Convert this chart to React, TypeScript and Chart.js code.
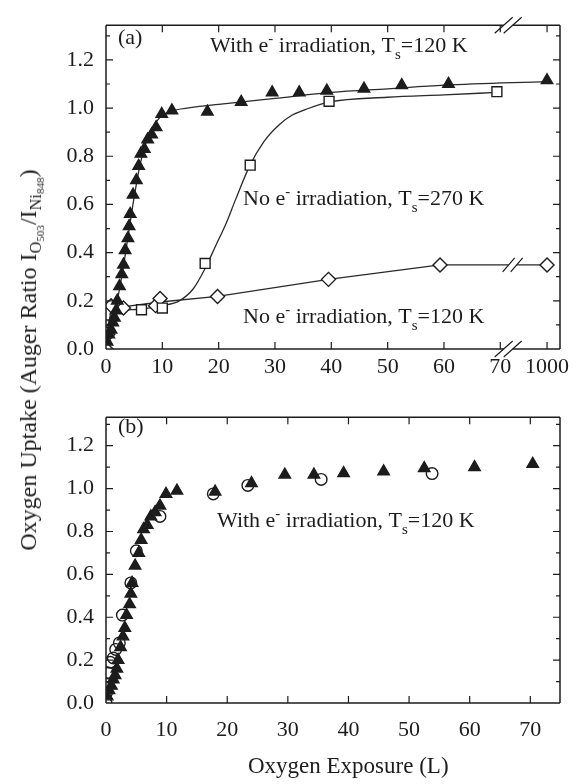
import React, { useEffect, useRef } from 'react';
import { Chart, registerables } from 'chart.js';

Chart.register(...registerables);

const FONT = "'Liberation Serif', 'Times New Roman', serif";
const INK = '#1c1c1c';

// ---------- Panel (a) data ----------
// With e- irradiation, Ts = 120 K (filled triangles)
const triX = [0.2, 0.5, 0.9, 1.2, 1.5, 1.8, 2.0, 2.4, 2.8, 3.1, 3.4, 3.9, 4.1, 4.3, 4.8, 5.4, 5.8, 6.2, 6.8, 7.4, 8.1, 8.9, 9.9, 11.7, 18.0, 24.0, 29.5, 34.3, 39.2, 45.8, 52.5, 60.8, 70.4];
const triY = [0.03, 0.06, 0.08, 0.11, 0.13, 0.16, 0.20, 0.26, 0.31, 0.35, 0.41, 0.46, 0.51, 0.56, 0.64, 0.70, 0.76, 0.81, 0.83, 0.87, 0.89, 0.92, 0.975, 0.99, 0.985, 1.025, 1.065, 1.065, 1.072, 1.08, 1.095, 1.10, 1.115];
// guide curve through the triangles
const triFitX = [0, 1, 2, 3, 4, 5, 6, 7, 8, 9, 10, 12, 16, 20, 30, 40, 50, 60, 70.4];
const triFitY = [0.02, 0.10, 0.20, 0.33, 0.48, 0.63, 0.76, 0.85, 0.905, 0.945, 0.97, 0.99, 1.005, 1.015, 1.04, 1.065, 1.08, 1.095, 1.11];

// No e- irradiation, Ts = 270 K (open squares)
const sqX = [0.1, 0.3, 6.3, 10.0, 17.6, 25.6, 39.6, 69.4];
const sqY = [0.10, 0.07, 0.163, 0.17, 0.355, 0.763, 1.028, 1.068];
const sqFitX = [0, 1, 3, 6, 10, 13, 15.5, 17.5, 19.5, 21.3, 23, 25.5, 28, 30.7, 33, 35.5, 39.6, 50, 60, 69.4];
const sqFitY = [0.08, 0.14, 0.16, 0.165, 0.18, 0.2, 0.25, 0.33, 0.43, 0.52, 0.62, 0.76, 0.86, 0.93, 0.97, 0.995, 1.025, 1.045, 1.055, 1.065];

// No e- irradiation, Ts = 120 K (open diamonds); 1000 L sits beyond the axis break
const diaX = [0, 0.3, 0.9, 3.1, 8.8, 9.6, 19.8, 39.5, 59.3, 1000];
const diaY = [0.0, 0.06, 0.18, 0.17, 0.18, 0.21, 0.218, 0.289, 0.349, 0.349];
const diaFitX = [0.3, 0.9, 3.0, 9.6, 19.8, 39.5, 59.3, 1000];
const diaFitY = [0.06, 0.17, 0.175, 0.195, 0.218, 0.289, 0.349, 0.349];

const xTicksA = [0, 10, 20, 30, 40, 50, 60, 70, 1000];
const xTicksB = [0, 10, 20, 30, 40, 50, 60, 70];
const yTicks = [0, 0.2, 0.4, 0.6, 0.8, 1.0, 1.2];

// ---------- Panel (b) data ----------
// open circles (second run, with e- irradiation)
const circX = [0, 0.1, 0.2, 0.4, 0.7, 1.2, 1.6, 2.2, 2.7, 4.1, 5.0, 8.9, 17.7, 23.4, 35.5, 53.8];
const circY = [0, 0.05, 0.09, 0.14, 0.19, 0.21, 0.25, 0.28, 0.41, 0.56, 0.71, 0.87, 0.975, 1.015, 1.043, 1.07];

// broken axis in (a): values above 70 are drawn at this axis position
const A_BREAK_POS = 78.3;
const A_AXIS_BREAK = 71.4;
const A_LINE_BREAK = 72.2;
const toAxisA = (x: number) => (x > 70 ? A_BREAK_POS : x);

type Seg = { t: string; k?: 'sup' | 'sub' };
const withLabel: Seg[] = [{ t: 'With e' }, { t: '-', k: 'sup' }, { t: ' irradiation, T' }, { t: 's', k: 'sub' }, { t: '=120 K' }];
const no270Label: Seg[] = [{ t: 'No e' }, { t: '-', k: 'sup' }, { t: ' irradiation, T' }, { t: 's', k: 'sub' }, { t: '=270 K' }];
const no120Label: Seg[] = [{ t: 'No e' }, { t: '-', k: 'sup' }, { t: ' irradiation, T' }, { t: 's', k: 'sub' }, { t: '=120 K' }];

function drawRich(ctx: CanvasRenderingContext2D, x: number, y: number, segs: Seg[], size: number) {
  let cx = x;
  ctx.textAlign = 'left';
  ctx.textBaseline = 'alphabetic';
  ctx.fillStyle = INK;
  for (const s of segs) {
    const fs = s.k ? size * 0.68 : size;
    ctx.font = `${fs}px ${FONT}`;
    const dy = s.k === 'sup' ? -size * 0.42 : s.k === 'sub' ? size * 0.3 : 0;
    ctx.fillText(s.t, cx, y + dy);
    cx += ctx.measureText(s.t).width;
  }
}

function drawFrame(chart: any, xTickVals: number[], axisBreak: number | null) {
  const { ctx, chartArea: a, scales } = chart;
  const xs = scales.x;
  const ys = scales.y;
  ctx.save();
  ctx.strokeStyle = INK;
  ctx.lineWidth = 1.5;
  ctx.beginPath();
  ctx.moveTo(a.left, a.top);
  ctx.lineTo(a.left, a.bottom);
  ctx.moveTo(a.right, a.top);
  ctx.lineTo(a.right, a.bottom);
  let bx = 0;
  if (axisBreak != null) {
    bx = xs.getPixelForValue(axisBreak);
    for (const yy of [a.top, a.bottom]) {
      ctx.moveTo(a.left, yy);
      ctx.lineTo(bx - 4.5, yy);
      ctx.moveTo(bx + 4.5, yy);
      ctx.lineTo(a.right, yy);
    }
  } else {
    for (const yy of [a.top, a.bottom]) {
      ctx.moveTo(a.left, yy);
      ctx.lineTo(a.right, yy);
    }
  }
  ctx.stroke();

  ctx.lineWidth = 1.2;
  ctx.beginPath();
  for (const v of xTickVals) {
    const px = xs.getPixelForValue(v);
    if (px <= a.left + 1 || px >= a.right - 1) continue;
    ctx.moveTo(px, a.bottom);
    ctx.lineTo(px, a.bottom - 7);
    ctx.moveTo(px, a.top);
    ctx.lineTo(px, a.top + 7);
  }
  for (let i = 1; i <= 13; i++) {
    const py = ys.getPixelForValue(i / 10);
    if (py < a.top + 2) continue;
    const L = i % 2 === 0 ? 7 : 4;
    ctx.moveTo(a.left, py);
    ctx.lineTo(a.left + L, py);
    ctx.moveTo(a.right, py);
    ctx.lineTo(a.right - L, py);
  }
  ctx.stroke();

  if (axisBreak != null) {
    ctx.beginPath();
    for (const yy of [a.top, a.bottom]) {
      for (const off of [-4.5, 4.5]) {
        ctx.moveTo(bx + off - 9, yy + 8);
        ctx.lineTo(bx + off + 9, yy - 8);
      }
    }
    ctx.stroke();
  }
  ctx.restore();
}

function drawLineBreak(chart: any, xVal: number, yVal: number) {
  const { ctx, scales } = chart;
  const px = scales.x.getPixelForValue(xVal);
  const py = scales.y.getPixelForValue(yVal);
  ctx.save();
  ctx.fillStyle = '#ffffff';
  ctx.fillRect(px - 4, py - 2, 8, 4);
  ctx.strokeStyle = INK;
  ctx.lineWidth = 1.2;
  ctx.beginPath();
  for (const off of [-4, 4]) {
    ctx.moveTo(px + off - 6, py + 7);
    ctx.lineTo(px + off + 6, py - 7);
  }
  ctx.stroke();
  ctx.restore();
}

const tickFont = { size: 22, family: FONT };

const markerBase = { showLine: false, borderWidth: 1.4, borderColor: INK };
const fitBase = {
  showLine: true,
  pointRadius: 0,
  borderColor: '#2a2a2a',
  borderWidth: 1.3,
  backgroundColor: 'transparent',
};

function baseOptions(xMax: number, yMax: number, xTickVals: number[], xLabels: number[], layoutTop: number, xAxisHeight: number, xPad: number) {
  return {
    responsive: false,
    devicePixelRatio: 1,
    animation: false as const,
    events: [],
    layout: { padding: { left: 0, right: 16, top: layoutTop, bottom: 0 } },
    plugins: { legend: { display: false }, tooltip: { enabled: false }, title: { display: false } },
    scales: {
      x: {
        type: 'linear' as const,
        min: 0,
        max: xMax,
        grid: { display: false, drawTicks: false },
        border: { display: false },
        afterBuildTicks: (s: any) => {
          s.ticks = xTickVals.map((v) => ({ value: v }));
        },
        afterFit: (s: any) => {
          s.height = xAxisHeight;
        },
        ticks: {
          autoSkip: false,
          maxRotation: 0,
          padding: xPad,
          color: INK,
          font: tickFont,
          callback: (_v: any, i: number) => String(xLabels[i]),
        },
      },
      y: {
        type: 'linear' as const,
        min: 0,
        max: yMax,
        grid: { display: false, drawTicks: false },
        border: { display: false },
        afterBuildTicks: (s: any) => {
          s.ticks = yTicks.map((v) => ({ value: v }));
        },
        afterFit: (s: any) => {
          s.width = 106;
        },
        ticks: {
          padding: 12,
          color: INK,
          font: tickFont,
          callback: (v: any) => Number(v).toFixed(1),
        },
      },
    },
  };
}

function PanelA() {
  const ref = useRef<HTMLCanvasElement | null>(null);
  useEffect(() => {
    if (!ref.current) return;
    const pts = (xs: number[], ys: number[]) => xs.map((x, i) => ({ x: toAxisA(x), y: ys[i] }));
    const chart = new Chart(ref.current, {
      type: 'scatter',
      data: {
        datasets: [
          { ...markerBase, label: 'With e- irradiation, Ts=120 K', data: pts(triX, triY), pointStyle: 'triangle', pointRadius: 6.6, backgroundColor: INK },
          { ...markerBase, label: 'No e- irradiation, Ts=270 K', data: pts(sqX, sqY), pointStyle: 'rect', pointRadius: 7, backgroundColor: '#ffffff' },
          { ...markerBase, label: 'No e- irradiation, Ts=120 K', data: pts(diaX, diaY), pointStyle: 'rectRot', pointRadius: 7, backgroundColor: '#ffffff' },
          { ...fitBase, label: 'fit tri', data: pts(triFitX, triFitY), cubicInterpolationMode: 'monotone' },
          { ...fitBase, label: 'fit sq', data: pts(sqFitX, sqFitY), cubicInterpolationMode: 'monotone' },
          { ...fitBase, label: 'fit dia', data: pts(diaFitX, diaFitY), tension: 0 },
        ] as any,
      },
      options: baseOptions(80.6, 1.344, xTicksA.map(toAxisA), xTicksA, 13, 43, 5) as any,
      plugins: [
        {
          id: 'decorA',
          afterDatasetsDraw(c: any) {
            drawLineBreak(c, A_LINE_BREAK, diaY[diaY.length - 1]);
            drawFrame(c, xTicksA.map(toAxisA), A_AXIS_BREAK);
          },
          afterDraw(c: any) {
            const ctx = c.ctx;
            ctx.save();
            drawRich(ctx, 118, 44, [{ t: '(a)' }], 22);
            drawRich(ctx, 210, 52, withLabel, 22);
            drawRich(ctx, 243, 205, no270Label, 22);
            drawRich(ctx, 243, 323, no120Label, 22);
            ctx.restore();
          },
        },
      ],
    });
    return () => chart.destroy();
  }, []);
  return <canvas ref={ref} width={576} height={392} style={{ position: 'absolute', left: 0, top: 0, width: 576, height: 392 }} />;
}

function PanelB() {
  const ref = useRef<HTMLCanvasElement | null>(null);
  useEffect(() => {
    if (!ref.current) return;
    const pts = (xs: number[], ys: number[]) => xs.map((x, i) => ({ x, y: ys[i] }));
    const chart = new Chart(ref.current, {
      type: 'scatter',
      data: {
        datasets: [
          { ...markerBase, label: 'With e- irradiation (triangles)', data: pts(triX, triY), pointStyle: 'triangle', pointRadius: 6.6, backgroundColor: INK },
          { ...markerBase, label: 'With e- irradiation (circles)', data: pts(circX, circY), pointStyle: 'circle', pointRadius: 5.8, backgroundColor: 'rgba(255,255,255,0)' },
        ] as any,
      },
      options: baseOptions(74.9, 1.333, xTicksB, xTicksB, 11, 81, 14) as any,
      plugins: [
        {
          id: 'decorB',
          afterDatasetsDraw(c: any) {
            drawFrame(c, xTicksB, null);
          },
          afterDraw(c: any) {
            const ctx = c.ctx;
            ctx.save();
            drawRich(ctx, 118, 41, [{ t: '(b)' }], 22);
            drawRich(ctx, 217, 135, withLabel, 22);
            drawRich(ctx, 248, 381, [{ t: 'Oxygen Exposure (L)' }], 23);
            ctx.restore();
          },
        },
      ],
    });
    return () => chart.destroy();
  }, []);
  return <canvas ref={ref} width={576} height={392} style={{ position: 'absolute', left: 0, top: 392, width: 576, height: 392 }} />;
}

const subStyle: React.CSSProperties = { fontSize: '0.68em', verticalAlign: '-0.3em', lineHeight: 0 };

export default function App() {
  return (
    <div style={{ position: 'absolute', left: 0, top: 0, width: 576, height: 784, background: '#ffffff', overflow: 'hidden' }}>
      <PanelA />
      <PanelB />
      <div
        style={{
          position: 'absolute',
          left: 28,
          top: 360,
          transform: 'translate(-50%, -50%) rotate(-90deg)',
          whiteSpace: 'nowrap',
          font: `24px ${FONT}`,
          color: INK,
          lineHeight: '28px',
        }}
      >
        Oxygen Uptake (Auger Ratio I
        <span style={subStyle}>
          O<span style={subStyle}>503</span>
        </span>
        /I
        <span style={subStyle}>
          Ni<span style={subStyle}>848</span>
        </span>
        )
      </div>
    </div>
  );
}
